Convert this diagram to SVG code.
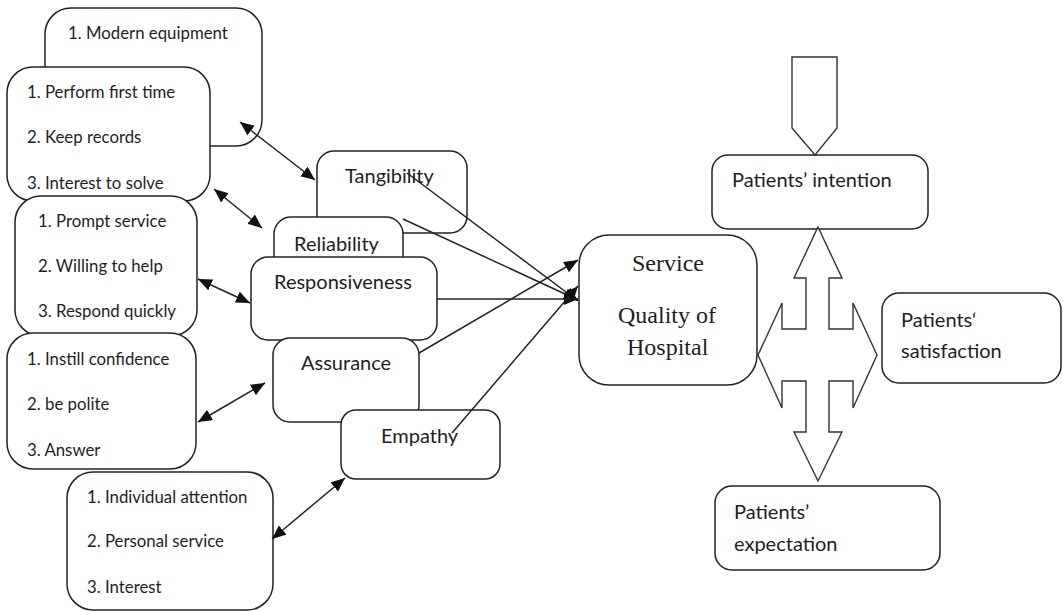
<svg xmlns="http://www.w3.org/2000/svg" width="1063" height="612" viewBox="0 0 1063 612">
  <style>
    .box { fill: #fff; stroke: #222; stroke-width: 1.5; }
    .shape { fill: #fff; stroke: #333; stroke-width: 1.4; stroke-linejoin: miter; }
    .list { font-family: Lato, "Open Sans", sans-serif; font-size: 16.8px; fill: #1e1e1e; }
    .lbl { font-family: Lato, "Open Sans", sans-serif; font-size: 20px; fill: #1e1e1e; }
    .serif { font-family: "Liberation Serif", "DejaVu Serif", serif; font-size: 24px; fill: #1e1e1e; }
    .link { stroke: #222; stroke-width: 1.5; fill: none; }
  </style>
  <defs>
    <marker id="tip" markerUnits="userSpaceOnUse" markerWidth="15" markerHeight="13" refX="14" refY="6" orient="auto-start-reverse">
      <path d="M0,0 L14,6 L0,12 z" fill="#111"/>
    </marker>
  </defs>
  <rect width="1063" height="612" fill="#fff"/>

  <!-- dimension item lists -->
  <g id="tangibility-items">
    <rect class="box" x="45" y="8" width="217" height="138" rx="26"/>
    <text class="list" x="68" y="39">1. Modern equipment</text>
  </g>
  <g id="reliability-items">
    <rect class="box" x="7" y="67" width="203" height="134" rx="26"/>
    <text class="list" x="27" y="98">1. Perform first time</text>
    <text class="list" x="27" y="143">2. Keep records</text>
    <text class="list" x="27" y="189">3. Interest to solve</text>
  </g>
  <g id="responsiveness-items">
    <rect class="box" x="15" y="196" width="182" height="140" rx="26"/>
    <text class="list" x="38" y="227">1. Prompt service</text>
    <text class="list" x="38" y="272">2. Willing to help</text>
    <text class="list" x="38" y="317">3. Respond quickly</text>
  </g>
  <g id="assurance-items">
    <rect class="box" x="7" y="333" width="189" height="136" rx="26"/>
    <text class="list" x="27" y="365">1. Instill confidence</text>
    <text class="list" x="27" y="410">2. be polite</text>
    <text class="list" x="27" y="456">3. Answer</text>
  </g>
  <g id="empathy-items">
    <rect class="box" x="67" y="472" width="206" height="138" rx="26"/>
    <text class="list" x="87" y="503">1. Individual attention</text>
    <text class="list" x="87" y="547">2. Personal service</text>
    <text class="list" x="87" y="593">3. Interest</text>
  </g>

  <!-- service quality dimensions -->
  <g id="tangibility">
    <rect class="box" x="317" y="151" width="150" height="82" rx="17"/>
    <text class="lbl" x="345" y="183">Tangibility</text>
  </g>
  <g id="reliability">
    <rect class="box" x="274" y="217" width="129" height="80" rx="17"/>
    <text class="lbl" x="294" y="251">Reliability</text>
  </g>
  <g id="responsiveness">
    <rect class="box" x="251" y="257" width="186" height="83" rx="17"/>
    <text class="lbl" x="274" y="289">Responsiveness</text>
  </g>
  <g id="assurance">
    <rect class="box" x="273" y="338" width="146" height="84" rx="17"/>
    <text class="lbl" x="301" y="370">Assurance</text>
  </g>
  <g id="empathy">
    <rect class="box" x="341" y="410" width="159" height="69" rx="15"/>
    <text class="lbl" x="381" y="443">Empathy</text>
  </g>

  <!-- central construct -->
  <g id="service-quality">
    <rect class="box" x="579" y="235" width="178" height="150" rx="30"/>
    <text class="serif" x="632" y="271">Service</text>
    <text class="serif" x="618" y="323">Quality of</text>
    <text class="serif" x="627" y="355">Hospital</text>
  </g>

  <!-- outcomes -->
  <g id="intention">
    <rect class="box" x="712" y="155" width="216" height="74" rx="16"/>
    <text class="lbl" x="732" y="187">Patients’ intention</text>
  </g>
  <g id="satisfaction">
    <rect class="box" x="882" y="293" width="179" height="90" rx="17"/>
    <text class="lbl" x="901" y="327">Patients‘</text>
    <text class="lbl" x="901" y="358">satisfaction</text>
  </g>
  <g id="expectation">
    <rect class="box" x="715" y="486" width="225" height="84" rx="17"/>
    <text class="lbl" x="734" y="519">Patients’</text>
    <text class="lbl" x="734" y="551">expectation</text>
  </g>

  <!-- block arrows -->
  <g id="block-arrows">
    <polygon class="shape" points="792,57 837,57 837,128 815,155 792,128"/>
    <polygon class="shape" points="818,227 842,278 829,278 829,329 853,329 853,303 877,355 853,408 853,381 829,381 829,432 842,432 818,481 794,432 806,432 806,381 782,381 782,408 758,355 782,303 782,329 806,329 806,278 794,278"/>
  </g>

  <!-- connectors -->
  <g id="connectors">
    <line class="link" x1="240" y1="122" x2="315" y2="180" marker-start="url(#tip)" marker-end="url(#tip)"/>
    <line class="link" x1="214" y1="189" x2="262" y2="228" marker-start="url(#tip)" marker-end="url(#tip)"/>
    <line class="link" x1="198" y1="279" x2="250" y2="303" marker-start="url(#tip)" marker-end="url(#tip)"/>
    <line class="link" x1="198" y1="422" x2="265" y2="383" marker-start="url(#tip)" marker-end="url(#tip)"/>
    <line class="link" x1="272" y1="539" x2="345" y2="478" marker-start="url(#tip)" marker-end="url(#tip)"/>

    <line class="link" x1="407" y1="173" x2="578" y2="301" marker-end="url(#tip)"/>
    <line class="link" x1="403" y1="219" x2="578" y2="300" marker-end="url(#tip)"/>
    <line class="link" x1="437" y1="299" x2="578" y2="299" marker-end="url(#tip)"/>
    <line class="link" x1="419" y1="353" x2="578" y2="260" marker-end="url(#tip)"/>
    <line class="link" x1="452" y1="433" x2="578" y2="286" marker-end="url(#tip)"/>
  </g>
</svg>
